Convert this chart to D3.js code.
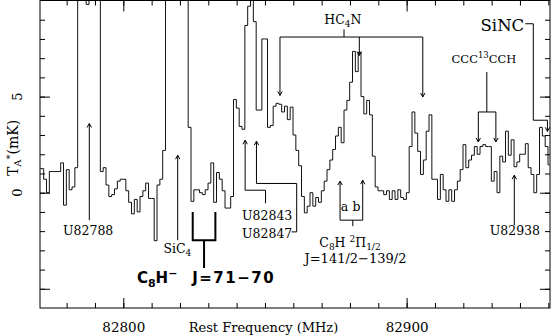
<!DOCTYPE html>
<html>
<head>
<meta charset="utf-8">
<script src="https://cdn.jsdelivr.net/npm/d3@7"></script>
<style>
  body { margin: 0; background: #fff; }
  text { font-family: "DejaVu Serif", serif; fill: #000; }
</style>
</head>
<body>
<div id="chart"></div>
<script>

// spectrum: first channel centre and channel width (MHz)
const chanStart = 82770.4;
const chanWidth = 1.0;

// antenna temperature per channel (mK); values above 10 run off the frame
const ta = [
  1.25, 1.25, 0.7, 0.0, 1.1, 1.1, 1.1, 1.1, 1.55, -0.65,
  1.2, 0.15, 0.3, 1.3, 12, 12, 12, 9.8, 12, 12,
  12, 12, 1.1, 1.3, 0.4, -0.2, -0.1, 0.2, 0.6, 0.7,
  0.7, 0.1, -0.5, -1.1, -0.35, -1.0, -0.2, 0.1, 0.5, -0.3,
  -0.3, -2.5, 0.4, 0.7, 2.2, 12, 12, 12, 12, 12,
  12, 12, 12, 3.4, -0.45, 0.15, 0.15, 0.0, -0.1, 0.15,
  0.5, 1.55, -0.5, 1.05, 0.7, 0.1, -0.8, -0.8, -0.2, 4.85,
  4.4, 3.45, 3.3, 8.7, 9.7, 12, 8.9, 4.3, 4.3, 8.0,
  8.0, 3.4, 3.5, 4.5, 4.65, 4.6, 4.2, 4.5, 3.8, 4.45,
  3.0, 2.2, 1.4, -0.2, -1.05, -0.7, 0.0, -0.7, -0.25, -0.5,
  0.1, 0.6, 1.2, 1.7, 2.25, 2.95, 3.4, 2.6, 4.3, 4.8,
  5.75, 7.35, 6.3, 7.3, 5.0, 4.1, 4.8, 4.05, 1.9, 0.3,
  0.1, 0.1, -0.1, 0.1, -0.35, 0.1, -0.35, 0.15, -0.25, -0.35,
  0.0, 2.4, 4.2, 3.1, 2.15, 0.95, 1.7, 3.2, 4.05, 0.7,
  0.7, -0.35, 0.95, 0.15, -0.45, 0.15, -0.45, 0.15, 0.6, 1.2,
  2.5, 1.3, 1.7, 1.95, 2.4, 2.0, 2.4, 2.5, 2.4, 2.4,
  0.6, 1.1, 0.0, 1.9, 1.6, 3.2, 1.95, 2.75, 1.35, 1.6,
  2.0, 2.0, 2.55, 1.3, 0.95, 0.0, 0.95, 3.4, 2.95, 2.4,
  1.45
];

// axis ticks
const xMinorTicks = [82780, 82790, 82800, 82810, 82820, 82830, 82840, 82850, 82860,
                     82870, 82880, 82890, 82900, 82910, 82920, 82930, 82940, 82950];
const xMajorTicks = [82800, 82900];
const yMinorTicks = [-5, -4, -3, -2, -1, 0, 1, 2, 3, 4, 5, 6, 7, 8, 9];
const yMajorTicks = [-5, 0, 5];
const yTickLabels = [0, 5];

// size of the svg and the plot frame
const svgWidth = 553;
const svgHeight = 336;
const frameLeft = 40, frameRight = 550, frameTop = 0.5, frameBottom = 308;

const x = d3.scaleLinear().domain([82770.6, 82950.6]).range([frameLeft, frameRight]);
const y = d3.scaleLinear().domain([-6, 10]).range([frameBottom, frameTop]);

const svg = d3.select("#chart")
  .append("svg")
    .attr("width", svgWidth)
    .attr("height", svgHeight);

svg.append("defs").append("clipPath").attr("id", "plotClip")
  .append("rect")
    .attr("x", frameLeft).attr("y", frameTop)
    .attr("width", frameRight - frameLeft).attr("height", frameBottom - frameTop);

// the spectrum as a histogram
const chans = ta.map(function(t, i) { return { f: chanStart + i * chanWidth, t: t }; });
const spectrumLine = d3.line()
  .x(function(d) { return x(d.f); })
  .y(function(d) { return y(d.t); })
  .curve(d3.curveStep);

svg.append("path")
  .datum(chans)
  .attr("clip-path", "url(#plotClip)")
  .attr("d", spectrumLine)
  .attr("fill", "none")
  .attr("stroke", "#111")
  .attr("stroke-width", 1);

// inward ticks on all four sides
function ticks(axis, tr) {
  const g = svg.append("g").attr("transform", tr).call(axis);
  g.select(".domain").remove();
  return g;
}
ticks(d3.axisBottom(x).tickValues(xMinorTicks).tickSize(-5).tickSizeOuter(0).tickFormat(""), "translate(0," + frameBottom + ")");
ticks(d3.axisTop(x).tickValues(xMinorTicks).tickSize(-5).tickSizeOuter(0).tickFormat(""), "translate(0," + frameTop + ")");
ticks(d3.axisTop(x).tickValues(xMajorTicks).tickSize(-11).tickSizeOuter(0).tickFormat(""), "translate(0," + frameTop + ")");
const xLab = ticks(d3.axisBottom(x).tickValues(xMajorTicks).tickSize(-10).tickSizeOuter(0).tickPadding(14).tickFormat(d3.format("d")), "translate(0," + frameBottom + ")");
xLab.attr("font-size", 13.5).attr("font-family", null);

ticks(d3.axisLeft(y).tickValues(yMinorTicks).tickSize(-5).tickSizeOuter(0).tickFormat(""), "translate(" + frameLeft + ",0)");
ticks(d3.axisLeft(y).tickValues(yMajorTicks).tickSize(-10).tickSizeOuter(0).tickFormat(""), "translate(" + frameLeft + ",0)");
ticks(d3.axisRight(y).tickValues(yMinorTicks).tickSize(-5).tickSizeOuter(0).tickFormat(""), "translate(" + frameRight + ",0)");
ticks(d3.axisRight(y).tickValues(yMajorTicks).tickSize(-10).tickSizeOuter(0).tickFormat(""), "translate(" + frameRight + ",0)");

// y tick labels lie along the axis
svg.selectAll(".ylab")
  .data(yTickLabels)
  .enter()
  .append("text")
    .attr("x", 22)
    .attr("y", function(d) { return y(d); })
    .attr("transform", function(d) { return "rotate(-90,22," + y(d) + ")"; })
    .attr("text-anchor", "middle")
    .style("font-size", "13px")
    .text(function(d) { return d; });

// frame
svg.append("rect")
  .attr("x", frameLeft).attr("y", frameTop)
  .attr("width", frameRight - frameLeft).attr("height", frameBottom - frameTop)
  .attr("fill", "none").attr("stroke", "#000").attr("stroke-width", 1);

// axis titles
svg.append("text")
  .attr("x", 263.5).attr("y", 332)
  .attr("text-anchor", "middle")
  .style("font-size", "13px")
  .text("Rest Frequency (MHz)");

const yTitle = svg.append("text")
  .attr("transform", "translate(18,176) rotate(-90)")
  .style("font-size", "14px");
yTitle.append("tspan").text("T");
yTitle.append("tspan").attr("dy", 3).style("font-size", "10px").text("A");
yTitle.append("tspan").attr("dy", -8).style("font-size", "10px").text("*");
yTitle.append("tspan").attr("dy", 5).text("(mK)");

// line identifications
const ann = svg.append("g")
  .attr("fill", "none")
  .attr("stroke", "#000")
  .attr("stroke-width", 1);

const toPath = d3.line()
  .x(function(p) { return x(p[0]); })
  .y(function(p) { return y(p[1]); });

function poly(pts, w) {
  ann.append("path").attr("d", toPath(pts)).attr("stroke-width", w || 1);
}
// open arrow head, dir 1 points up and -1 points down
function head(f, t, dir) {
  const px = x(f), py = y(t);
  ann.append("path")
    .attr("d", "M" + (px - 2.2) + "," + (py + 4 * dir) + "L" + px + "," + py + "L" + (px + 2.2) + "," + (py + 4 * dir));
}

// U82788
poly([[82788, -1.43], [82788, 3.6]]); head(82788, 3.6, 1);
// SiC4
poly([[82819.2, -2.47], [82819.2, 1.95]]); head(82819.2, 1.95, 1);
// C8H- bracket
poly([[82824.5, -1.0], [82824.5, -2.47], [82832.5, -2.47], [82832.5, -1.0]], 2);
poly([[82828.5, -2.47], [82828.5, -3.92]], 2);
// U82843 and U82847
poly([[82850.2, -0.55], [82850.2, 0.13], [82843, 0.13], [82843, 2.73]]); head(82843, 2.73, 1);
poly([[82859.4, -2.04], [82861.2, -2.04], [82861.2, 0.48], [82847, 0.48], [82847, 2.68]]); head(82847, 2.68, 1);
// HC4N
poly([[82877.9, 8.5], [82877.9, 8.1]]);
poly([[82855.3, 5.06], [82855.3, 8.1], [82905.7, 8.1], [82905.7, 4.98]]);
poly([[82883.3, 8.1], [82883.3, 7.14]]);
head(82855.3, 5.06, -1); head(82883.3, 7.14, -1); head(82905.7, 4.98, -1);
// C8H 2Pi1/2 a, b
poly([[82876.5, 0.6], [82876.5, -1.43], [82884.5, -1.43], [82884.5, 0.65]]);
poly([[82881, -1.43], [82881, -1.74]]);
head(82876.5, 0.6, 1); head(82884.5, 0.65, 1);
// CCC13CCH
poly([[82928.3, 6.28], [82928.3, 4.2]]);
poly([[82925.3, 2.64], [82925.3, 4.2], [82931.5, 4.2], [82931.5, 2.64]]);
head(82925.3, 2.64, -1); head(82931.5, 2.64, -1);
// SiNC
poly([[82941.9, 8.79], [82944.7, 8.79], [82944.7, 3.77], [82949.7, 3.77], [82949.7, 3.19]]);
head(82949.7, 3.19, -1);
// U82938
poly([[82938, -1.69], [82938, 0.91]]); head(82938, 0.91, 1);

// labels
function label(f, t, anchor, size) {
  return svg.append("text")
    .attr("x", x(f)).attr("y", y(t))
    .attr("text-anchor", anchor)
    .style("font-size", size + "px");
}
function sub(el, s, dy, size) {
  el.append("tspan").attr("dy", dy).style("font-size", size + "px").text(s);
}

label(82787.6, -2.2, "middle", 12.5).text("U82788");
label(82841.9, -1.43, "start", 12.5).text("U82843");
label(82841.9, -2.36, "start", 12.5).text("U82847");
label(82938.2, -2.2, "middle", 12.5).text("U82938");

const sic4 = label(82819.1, -3.14, "middle", 12.5).text("SiC");
sub(sic4, "4", 3, 9);

const hc4n = label(82877.5, 8.8, "middle", 12.5).text("HC");
sub(hc4n, "4", 3, 9); sub(hc4n, "N", -3, 12.5);

label(82878.1, -0.96, "middle", 12.5).text("a");
label(82882.3, -0.96, "middle", 12.5).text("b");

const c8h = label(82880.0, -2.83, "middle", 12.5).text("C");
sub(c8h, "8", 3, 9); sub(c8h, "H ", -3, 12.5);
sub(c8h, "2", -5, 9); sub(c8h, "\u03A0", 5, 12.5); sub(c8h, "1/2", 3, 9);
label(82881.95, -3.66, "middle", 13).text("J=141/2\u2212139/2");

const ccc = label(82927.3, 6.73, "middle", 11.5).text("CCC");
sub(ccc, "13", -5, 8.5); sub(ccc, "CCH", 5, 11.5);

label(82941.5, 8.39, "end", 16.5).text("SiNC");

// the anion, in bold
const anion = label(82804.8, -4.7, "start", 15)
  .style("font-family", "'DejaVu Sans', sans-serif")
  .style("font-weight", "bold")
  .text("C");
sub(anion, "8", 4, 11); sub(anion, "H", -4, 15); sub(anion, "\u2212", -6, 11);
label(82824.3, -4.7, "start", 15)
  .style("font-family", "'DejaVu Sans', sans-serif")
  .style("font-weight", "bold")
  .style("letter-spacing", "1.5px")
  .text("J=71\u221270");

</script>
</body>
</html>
